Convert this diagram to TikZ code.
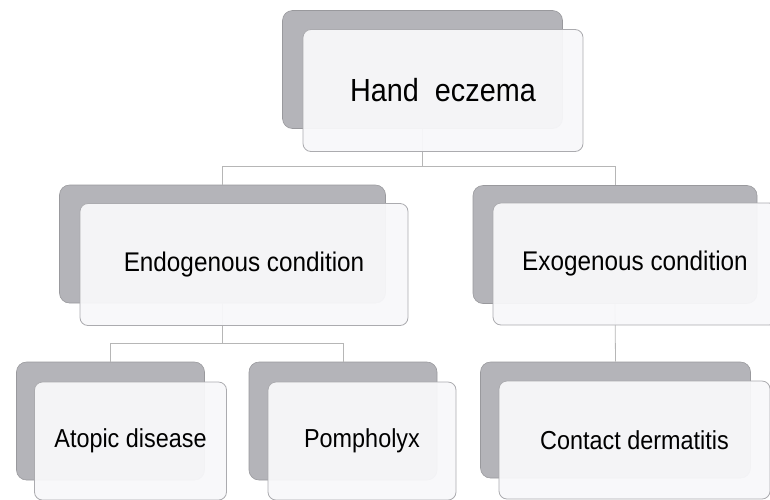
\documentclass[tikz,border=0pt]{standalone}
\usepackage{fontspec}
\newfontfamily\boxfont{Liberation Sans}[FakeStretch=0.9]
\usetikzlibrary{positioning, calc}
\definecolor{shadegray}{HTML}{B4B4B9}
\definecolor{panel}{HTML}{F8F8FA}
\definecolor{panelline}{HTML}{ABABAF}
\definecolor{linkgray}{HTML}{B6B6B6}

\tikzset{
  backbox/.style={fill=shadegray, draw=shadegray!85!black, line width=0.6pt, rounded corners=10pt, inner sep=0pt},
  frontbox/.style={fill=panel, fill opacity=0.94, text opacity=1, draw=panelline, line width=0.8pt, rounded corners=8pt, inner sep=0pt, align=center},
  toplevel/.style={font=\boxfont\fontsize{32}{38}\selectfont},
  midlevel/.style={font=\boxfont\fontsize{27}{32}\selectfont},
  lowlevel/.style={font=\boxfont\fontsize{26}{31}\selectfont},
  link/.style={draw=linkgray, line width=0.8pt},
}

\begin{document}
\begin{tikzpicture}[x=1pt, y=-1pt]
\useasboundingbox (0,0) rectangle (770,499);

% shadow boxes behind each entry
\node[backbox, minimum width=280pt, minimum height=118pt] (handB) at (422.5,69.5) {};
\node[backbox, minimum width=326pt, minimum height=118pt] (endoB) at (222.5,244) {};
\node[backbox, minimum width=284pt, minimum height=118pt] (exoB) at (615,244.5) {};
\node[backbox, minimum width=188pt, minimum height=118pt] (atopB) at (110.5,421) {};
\node[backbox, minimum width=188pt, minimum height=118pt] (pomphB) at (343,421) {};
\node[backbox, minimum width=270pt, minimum height=116pt] (contB) at (615.5,420) {};

% tree lines
\draw[link] (handB.south) -- ++(0,38) -| (endoB.north);
\draw[link] (handB.south) -- ++(0,38) -| (exoB.north);
\draw[link] (endoB.south) -- ++(0,40) -| (atopB.north);
\draw[link] (endoB.south) -- ++(0,40) -| (pomphB.north);
\draw[link] (exoB.south) -- (contB.north);

% front panels with the labels
\node[frontbox, toplevel, minimum width=280pt, minimum height=122pt] (hand) at ($(handB)+(20.5,21)$) {Hand\ \ eczema};
\node[frontbox, midlevel, minimum width=328pt, minimum height=122pt] (endo) at ($(endoB)+(21.5,20.5)$) {Endogenous condition};
\node[frontbox, midlevel, minimum width=284pt, minimum height=122pt] (exo) at ($(exoB)+(20,19.5)$) {Exogenous condition};
\node[frontbox, lowlevel, minimum width=192pt, minimum height=118pt] (atop) at ($(atopB)+(20,20)$) {Atopic disease};
\node[frontbox, lowlevel, minimum width=188pt, minimum height=118pt] (pomph) at ($(pomphB)+(19,20)$) {Pompholyx};
\node[frontbox, lowlevel, minimum width=271pt, minimum height=118pt] (cont) at ($(contB)+(19,20)$) {Contact dermatitis};
\end{tikzpicture}
\end{document}
